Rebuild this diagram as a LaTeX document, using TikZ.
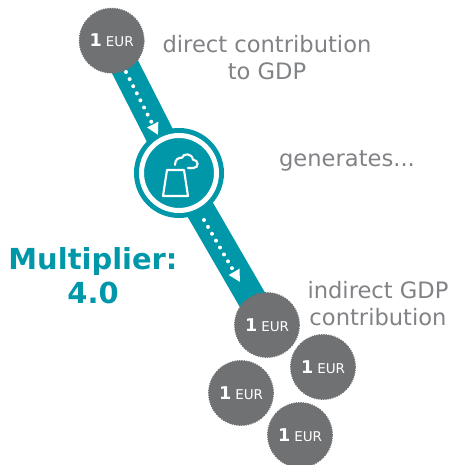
\documentclass[tikz,border=0pt]{standalone}
\usepackage{fontspec}
\setmainfont{DejaVu Sans}
\usetikzlibrary{positioning,arrows.meta,backgrounds}
\definecolor{hubteal}{HTML}{0098A8}
\definecolor{coingray}{HTML}{707173}
\definecolor{labelgray}{HTML}{808285}
\tikzset{
  coin/.style={circle, fill=coingray, draw=coingray, densely dotted, line width=1pt, minimum size=1.94cm, inner sep=0pt, text=white, font=\fontsize{11.5}{13}\selectfont},
  hub/.style={circle, fill=hubteal, draw=hubteal, line width=0.15cm, double=white, double distance=0.15cm, minimum size=2.25cm, inner sep=0pt},
  band/.style={hubteal, line width=0.87cm},
  flow/.style={white, line width=3.4pt, line cap=round, dash pattern=on 0pt off 6.8pt, -{Triangle[width=10pt,length=10pt,fill=white,line cap=butt]}},
  caption/.style={align=center, text=labelgray, font=\fontsize{19.3}{23.5}\selectfont}
}
\newcommand{\eur}{\textbf{\fontsize{15}{15}\selectfont 1}\hspace{0.3em}EUR\hspace{0.4em}}
\begin{document}
\begin{tikzpicture}
    \useasboundingbox (0,0) rectangle (13.5,13.95);
    % coins and hub
    \node[coin] (coinTop) at (3.35,12.73) {\eur};
    \node[hub] (plant) at (5.37,8.76) {};
    \node[coin] (coinA) at (8.01,4.20) {\eur};
    \node[coin] (coinB) at (9.69,2.94) {\eur};
    \node[coin] (coinC) at (7.23,2.16) {\eur};
    \node[coin] (coinD) at (9.00,0.90) {\eur};
    % bands behind the nodes
    \begin{scope}[on background layer]
        \draw[band] (coinTop.center) -- (plant.center);
        \draw[band] (plant.center) -- (coinA.center);
    \end{scope}
    % dotted arrows on the bands
    \coordinate (flowAs) at (3.78,11.79);
    \coordinate (flowAe) at (4.74,9.90);
    \coordinate (flowBs) at (6.12,7.35);
    \coordinate (flowBe) at (7.20,5.49);
    \draw[flow] (flowAs) -- (flowAe);
    \draw[flow] (flowBs) -- (flowBe);
    % cooling tower and cloud
    \draw[white, line width=1.8pt, line join=round] (4.89,8.07) -- (5.01,8.85) -- (5.52,8.85) -- (5.64,8.07) -- cycle;
    \draw[white, line width=1.8pt, line cap=round] (5.25,9.00) .. controls (5.25,9.18) and (5.36,9.22) .. (5.46,9.22)
        .. controls (5.50,9.36) and (5.76,9.36) .. (5.79,9.16)
        .. controls (5.96,9.16) and (5.98,8.91) .. (5.80,8.91) -- (5.64,8.91);
    % labels
    \node[caption] (lblDirect) at (8.01,12.22) {direct contribution\\to GDP};
    \node[caption] (lblGen) at (10.41,9.12) {generates...};
    \node[caption] (lblIndirect) at (11.34,4.84) {indirect GDP\\contribution};
    \node[align=center, text=hubteal, font=\fontsize{24.7}{29.5}\selectfont\bfseries] (lblMult) at (2.79,5.68) {Multiplier:\\4.0};
\end{tikzpicture}
\end{document}
